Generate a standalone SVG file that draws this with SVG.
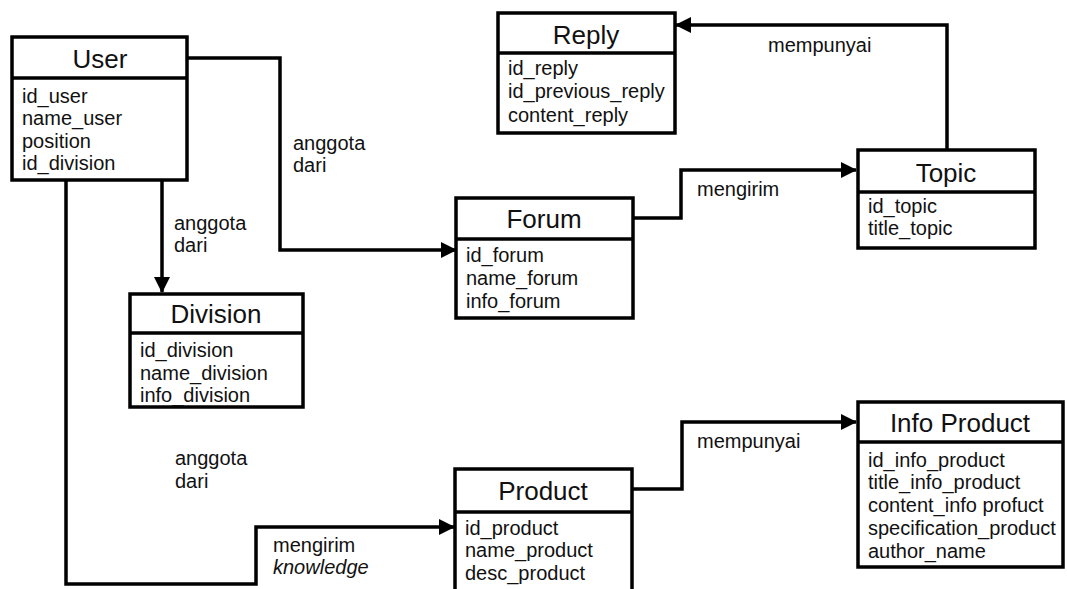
<svg xmlns="http://www.w3.org/2000/svg" width="1067" height="589" viewBox="0 0 1067 589">
<style>
.box{fill:#fff;stroke:#000;stroke-width:3.5}
.sep{stroke:#000;stroke-width:3.5}
.title{font-family:"Liberation Sans",Arial,sans-serif;font-size:26px;text-anchor:middle;fill:#111}
.attr{font-family:"Liberation Sans",Arial,sans-serif;font-size:20px;fill:#111}
.lbl{font-family:"Liberation Sans",Arial,sans-serif;font-size:20px;fill:#111}
.conn{fill:none;stroke:#000;stroke-width:3.5}
</style>
<defs>
<marker id="arr" markerUnits="userSpaceOnUse" markerWidth="16" markerHeight="16" refX="15" refY="8" orient="auto">
<path d="M0,0 L16,8 L0,16 z" fill="#000"/>
</marker>
</defs>
<rect width="1067" height="589" fill="#fff"/>
<g id="connectors">
<polyline class="conn" points="187,58 280,58 280,250 456,250" marker-end="url(#arr)"/>
<polyline class="conn" points="162,180 162,292" marker-end="url(#arr)"/>
<polyline class="conn" points="66,180 66,584 256,584 256,527 454,527" marker-end="url(#arr)"/>
<polyline class="conn" points="633,218 681,218 681,170 856,170" marker-end="url(#arr)"/>
<polyline class="conn" points="632,489 682,489 682,422 856,422" marker-end="url(#arr)"/>
<polyline class="conn" points="947,150 947,25 676,25" marker-end="url(#arr)"/>
<text class="lbl" x="293" y="150">anggota</text>
<text class="lbl" x="293" y="172">dari</text>
<text class="lbl" x="174" y="230">anggota</text>
<text class="lbl" x="174" y="252">dari</text>
<text class="lbl" x="175" y="465">anggota</text>
<text class="lbl" x="175" y="488">dari</text>
<text class="lbl" x="273" y="552">mengirim</text>
<text class="lbl" x="273" y="574" font-style="italic">knowledge</text>
<text class="lbl" x="697" y="196">mengirim</text>
<text class="lbl" x="697" y="448">mempunyai</text>
<text class="lbl" x="768" y="52">mempunyai</text>
</g>
<g id="user">
<rect class="box" x="12" y="37" width="175" height="143"/>
<line class="sep" x1="12" y1="78" x2="187" y2="78"/>
<text class="title" x="100" y="68">User</text>
<text class="attr" x="22" y="103">id_user</text>
<text class="attr" x="22" y="125">name_user</text>
<text class="attr" x="22" y="148">position</text>
<text class="attr" x="22" y="170">id_division</text>
</g>
<g id="division">
<rect class="box" x="130" y="294" width="173" height="113"/>
<line class="sep" x1="130" y1="333" x2="303" y2="333"/>
<text class="title" x="216" y="323">Division</text>
<text class="attr" x="140" y="357">id_division</text>
<text class="attr" x="140" y="380">name_division</text>
<text class="attr" x="140" y="402">info_division</text>
</g>
<g id="forum">
<rect class="box" x="456" y="198" width="177" height="120"/>
<line class="sep" x1="456" y1="239" x2="633" y2="239"/>
<text class="title" x="544" y="228">Forum</text>
<text class="attr" x="466" y="262">id_forum</text>
<text class="attr" x="466" y="285">name_forum</text>
<text class="attr" x="466" y="308">info_forum</text>
</g>
<g id="reply">
<rect class="box" x="498" y="13" width="177" height="120"/>
<line class="sep" x1="498" y1="53" x2="675" y2="53"/>
<text class="title" x="586" y="44">Reply</text>
<text class="attr" x="508" y="75">id_reply</text>
<text class="attr" x="508" y="98">id_previous_reply</text>
<text class="attr" x="508" y="122">content_reply</text>
</g>
<g id="topic">
<rect class="box" x="858" y="150" width="177" height="98"/>
<line class="sep" x1="858" y1="192" x2="1035" y2="192"/>
<text class="title" x="946" y="182">Topic</text>
<text class="attr" x="868" y="213">id_topic</text>
<text class="attr" x="868" y="235">title_topic</text>
</g>
<g id="product">
<rect class="box" x="455" y="469" width="177" height="140"/>
<line class="sep" x1="455" y1="512" x2="632" y2="512"/>
<text class="title" x="543" y="500">Product</text>
<text class="attr" x="465" y="535">id_product</text>
<text class="attr" x="465" y="557">name_product</text>
<text class="attr" x="465" y="580">desc_product</text>
</g>
<g id="info-product">
<rect class="box" x="858" y="402" width="205" height="165"/>
<line class="sep" x1="858" y1="442" x2="1063" y2="442"/>
<text class="title" x="960" y="432">Info Product</text>
<text class="attr" x="868" y="467">id_info_product</text>
<text class="attr" x="868" y="489">title_info_product</text>
<text class="attr" x="868" y="512">content_info profuct</text>
<text class="attr" x="868" y="535">specification_product</text>
<text class="attr" x="868" y="558">author_name</text>
</g>
</svg>
